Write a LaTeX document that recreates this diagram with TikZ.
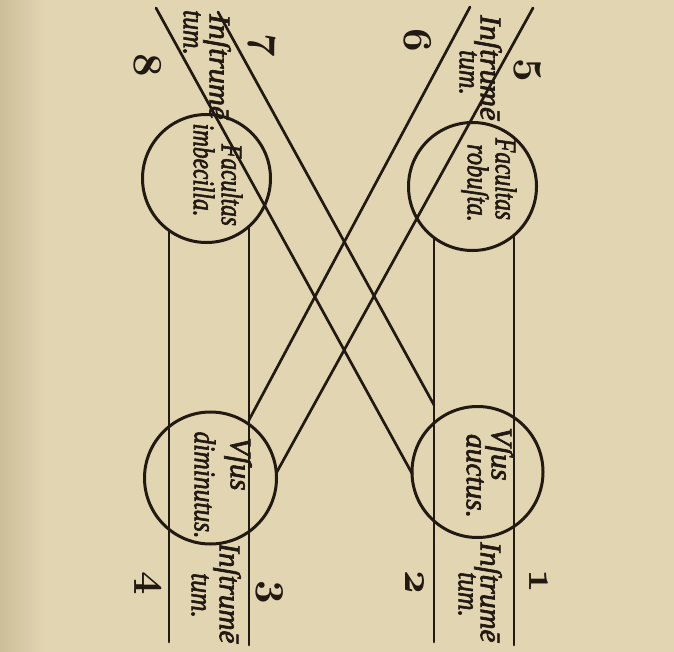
\documentclass[tikz,border=0pt]{standalone}
\usepackage{graphicx}
\usepackage{fontspec}
\setmainfont{Liberation Serif}
\newfontface\oldface{Liberation Serif Italic}[RawFeature={embolden=2.2}]
\definecolor{paper}{RGB}{226,213,178}
\definecolor{paperdark}{RGB}{204,190,152}
\definecolor{ink}{RGB}{34,26,18}
\newcommand{\hsq}[2]{\scalebox{#1}[1]{#2}}
\newcommand{\osn}[1]{\scalebox{1.65}{\fontsize{24.88}{25}\usefont{OML}{cmm}{b}{it}#1}}
\tikzset{
  circ/.style={circle, draw=ink, line width=3pt, inner sep=0pt},
  ray/.style={draw=ink, line width=2.7pt, line cap=round},
  lab/.style={rotate=-90, inner sep=0pt, text=ink,
    font=\fontsize{30}{30}\selectfont\oldface},
  numlab/.style={rotate=-90, inner sep=0pt, text=ink}
}
\begin{document}
\begin{tikzpicture}[x=1pt,y=-1pt]
\useasboundingbox (0,0) rectangle (674,652);
\fill[paper] (0,0) rectangle (674,652);
\shade[left color=paperdark, right color=paper] (0,0) rectangle (45,652);

% circles
\node[circ, minimum size=128pt] (tl) at (206.5,178.5) {};
\node[circ, minimum size=128pt] (tr) at (472.5,186.5) {};
\node[circ, minimum size=132pt] (bl) at (210.5,478) {};
\node[circ, minimum size=131pt] (br) at (477.5,472) {};

% vertical lines
\coordinate (v1t) at (169,230.4);  \coordinate (v1b) at (169,642);
\coordinate (v2t) at (249,226.4);  \coordinate (v2b) at (249,645);
\coordinate (v3t) at (434,237.6);  \coordinate (v3b) at (434,642);
\coordinate (v4t) at (514,235.2);  \coordinate (v4b) at (514,645);
\draw[ray] (v1t) -- (v1b);
\draw[ray] (v2t) -- (v2b);
\draw[ray] (v3t) -- (v3b);
\draw[ray] (v4t) -- (v4b);

% diagonal lines
\coordinate (d8a) at (156,8);   \coordinate (d8b) at (412.3,474);
\coordinate (d7a) at (218,12);  \coordinate (d7b) at (434,405);
\coordinate (d6a) at (470,7);   \coordinate (d6b) at (249,420);
\coordinate (d5a) at (533,8);   \coordinate (d5b) at (276.3,473);
\draw[ray] (d8a) -- (d8b);
\draw[ray] (d7a) -- (d7b);
\draw[ray] (d6a) -- (d6b);
\draw[ray] (d5a) -- (d5b);

% circle texts
\node[lab, anchor=mid] (t1) at (224,185) {\hsq{0.78}{Facultas}};
\node[lab, anchor=mid] (t2) at (196,170) {\hsq{0.78}{imbecilla.}};
\node[lab, anchor=mid] (t3) at (498,179) {\hsq{0.78}{Facultas}};
\node[lab, anchor=mid] (t4) at (470,183) {\hsq{0.82}{robuſta.}};
\node[lab, anchor=mid] (t5) at (233,464) {\hsq{1.0}{Vſus}};
\node[lab, anchor=mid] (t6) at (197,485) {\hsq{0.85}{diminutus.}};
\node[lab, anchor=mid] (t7) at (494,454) {\hsq{1.0}{Vſus}};
\node[lab, anchor=mid] (t8) at (469,476) {\hsq{0.98}{auctus.}};

% Instrumentum labels
\node[lab, anchor=mid west] (i1) at (212,14) {\hsq{1.02}{Inſtrumē}};
\node[lab, anchor=mid west] (i1b) at (186,10) {\hsq{0.85}{tum.}};
\node[lab, anchor=mid west] (i2) at (483,15) {\hsq{1.02}{Inſtrumē}};
\node[lab, anchor=mid west] (i2b) at (462,50) {\hsq{0.85}{tum.}};
\node[lab, anchor=mid west] (i3) at (222,543) {\hsq{0.97}{Inſtrumē}};
\node[lab, anchor=mid west] (i3b) at (194,573) {\hsq{0.85}{tum.}};
\node[lab, anchor=mid west] (i4) at (483,542) {\hsq{0.97}{Inſtrumē}};
\node[lab, anchor=mid west] (i4b) at (461,572) {\hsq{0.85}{tum.}};

% numbers
\node[numlab] (n8) at (148,65) {\osn{8}};
\node[numlab] (n7) at (262,45) {\osn{7}};
\node[numlab] (n6) at (418,40) {\osn{6}};
\node[numlab] (n5) at (528,70) {\osn{5}};
\node[numlab] (n4) at (148,583) {\osn{4}};
\node[numlab] (n3) at (270,592) {\osn{3}};
\node[numlab] (n2) at (415,582) {\osn{2}};
\node[numlab] (n1) at (539,581) {\osn{1}};
\end{tikzpicture}
\end{document}
